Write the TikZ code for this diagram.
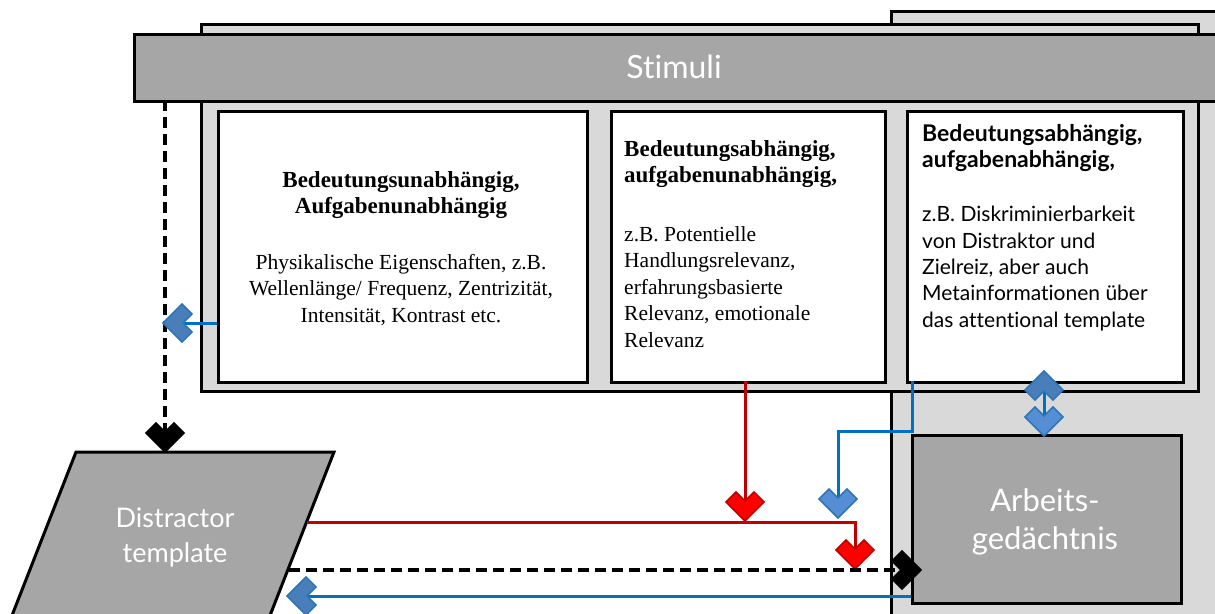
\documentclass[tikz,border=0pt]{standalone}
\usepackage{fontspec}
\setmainfont{Liberation Serif}
\newfontfamily\sansf[Ligatures=NoCommon]{Lato}
\usetikzlibrary{arrows.meta}
\definecolor{lgray}{HTML}{D9D9D9}
\definecolor{mgray}{HTML}{A6A6A6}
\definecolor{dred}{HTML}{C00000}
\definecolor{bred}{HTML}{FF0000}
\definecolor{lblue}{HTML}{0070C0}
\definecolor{fblue}{HTML}{558ED5}
\definecolor{fblueD}{HTML}{4A7EBB}
\definecolor{oblue}{HTML}{2E75B6}
\newcommand\defchev[3]{%
\pgfdeclarearrow{
  name=#1,
  setup code={
    \pgfarrowssettipend{0pt}
    \pgfarrowssetlineend{-12pt}
    \pgfarrowssetvisualbackend{-29pt}
    \pgfarrowssetbackend{-29pt}
    \pgfarrowshullpoint{0pt}{0pt}
    \pgfarrowsupperhullpoint{-20pt}{20pt}
    \pgfarrowsupperhullpoint{-29pt}{11pt}
  },
  drawing code={
    \pgfsetdash{}{0pt}
    \pgfsetlinewidth{1.6pt}
    \pgfsetmiterjoin
    \pgfsetfillcolor{#2}\pgfsetstrokecolor{#3}
    \pgfpathmoveto{\pgfqpoint{0pt}{0pt}}
    \pgfpathlineto{\pgfqpoint{-19pt}{19pt}}
    \pgfpathlineto{\pgfqpoint{-29pt}{9pt}}
    \pgfpathlineto{\pgfqpoint{-20pt}{0pt}}
    \pgfpathlineto{\pgfqpoint{-29pt}{-9pt}}
    \pgfpathlineto{\pgfqpoint{-19pt}{-19pt}}
    \pgfpathclose
    \pgfusepathqfillstroke
  }
}}
\defchev{ChevRed}{bred}{dred}
\defchev{ChevBlue}{fblue}{oblue}
\defchev{ChevBlueD}{fblueD}{oblue}
\defchev{ChevBlack}{black}{black}
\tikzset{
  frame/.style={draw=black, line width=3pt},
  wbox/.style={frame, fill=white, anchor=north west, inner sep=0pt},
  redline/.style={draw=dred, line width=3pt},
  blueline/.style={draw=lblue, line width=3pt},
  blackdash/.style={draw=black, line width=3.5pt, dash pattern=on 11pt off 6pt},
  bodyserif/.style={font=\fontsize{21.5}{26.5}\selectfont},
  bodysans/.style={font=\sansf\fontsize{21}{26.3}\selectfont},
  whitesans/.style={text=white, font=\sansf\fontsize{31}{38}\selectfont, align=center},
}
\newcommand\hd[1]{{\fontsize{23}{26.5}\selectfont\bfseries #1}}
\begin{document}
\begin{tikzpicture}[x=1pt,y=-1pt]
\useasboundingbox (0,0) rectangle (1215,613);
\clip (0,0) rectangle (1215,613);
% background boxes
\fill[lgray] (891,11) rectangle (1240,640);
\draw[frame] (891,640) -- (891,11) -- (1240,11);
\node[frame, fill=lgray, anchor=north west, minimum width=997pt, minimum height=367pt, inner sep=0pt] (mid) at (200,23) {};
\node[frame, fill=mgray, anchor=north west, minimum width=1110pt, minimum height=67pt, inner sep=0pt] (stim) at (133,33) {};
\node[whitesans, font=\sansf\fontsize{32}{38}\selectfont] (stimtxt) at (674,67) {Stimuli};
% content boxes
\node[wbox, minimum width=369pt, minimum height=271pt] (b1) at (217,110) {};
\node[wbox, minimum width=274pt, minimum height=271pt] (b2) at (610,110) {};
\node[wbox, minimum width=276pt, minimum height=271pt] (b3) at (906,110) {};
\node[bodyserif, align=center, anchor=north, inner sep=0pt] (t1) at (401,171) {%
\hd{Bedeutungsunabhängig,}\\\hd{Aufgabenunabhängig}\\[29pt]
Physikalische Eigenschaften, z.B.\\Wellenlänge/ Frequenz, Zentrizität,\\Intensität, Kontrast etc.};
\node[bodyserif, align=left, anchor=north west, inner sep=0pt] (t2) at (624,140) {%
\hd{Bedeutungsabhängig,}\\\hd{aufgabenunabhängig,}\\[32pt]
z.B. Potentielle\\Handlungsrelevanz,\\erfahrungsbasierte\\Relevanz, emotionale\\Relevanz};
\node[bodysans, align=left, anchor=north west, inner sep=0pt] (t3) at (922,124) {%
{\sansf\hd{Bedeutungsabhängig,}}\\{\sansf\hd{aufgabenabhängig,}}\\[28pt]
z.B. Diskriminierbarkeit\\von Distraktor und\\Zielreiz, aber auch\\Metainformationen über\\das attentional template};
% working memory
\node[frame, fill=mgray, anchor=north west, minimum width=269pt, minimum height=168pt, inner sep=0pt] (ag) at (911,434) {};
\node[whitesans] (agtxt) at (1045,522) {Arbeits-\\gedächtnis};
% distractor template (parallelogram)
\coordinate (pTL) at (76,452);
\coordinate (pTR) at (334,452);
\coordinate (pBR) at (269,618);
\coordinate (pBL) at (11,618);
\filldraw[fill=mgray, draw=black, line width=3pt, line join=miter] (pTL) -- (pTR) -- (pBR) -- (pBL) -- cycle;
\node[whitesans, font=\sansf\fontsize{27}{35}\selectfont] (dt) at (175,537) {Distractor\\template};
% connector coordinates
\coordinate (dashTop) at (165,100);
\coordinate (dashBot) at (165,452);
\coordinate (b1out) at (217,323);
\coordinate (b1tip) at (163,323);
\coordinate (b2out) at (745,381);
\coordinate (redJoin) at (745,521);
\coordinate (redStart) at (307,522);
\coordinate (redCorner) at (855,522);
\coordinate (redEnd) at (855,569);
\coordinate (b3out) at (912,381);
\coordinate (bc1) at (912,431);
\coordinate (bc2) at (838,431);
\coordinate (blueEnd) at (838,518);
\coordinate (dashStart) at (289,570);
\coordinate (agIn) at (921,570);
\coordinate (agOut) at (911,596);
\coordinate (dtIn) at (287,596);
\coordinate (b3bot) at (1044,371);
\coordinate (agTop) at (1044,436);
% connectors
\draw[blackdash, -{ChevBlack}] (dashTop) -- (dashBot);
\draw[blueline, -{ChevBlueD}] (b1out) -- (b1tip);
\draw[redline, -{ChevRed}] (b2out) -- (redJoin);
\draw[redline, -{ChevRed}] (redStart) -- (redCorner) -- (redEnd);
\draw[blueline, -{ChevBlue}] (b3out) -- (bc1) -- (bc2) -- (blueEnd);
\draw[blackdash, -{ChevBlack}] (dashStart) -- (agIn);
\draw[blueline, -{ChevBlueD}] (agOut) -- (dtIn);
\draw[blueline, {ChevBlueD}-{ChevBlue}] (b3bot) -- (agTop);
\end{tikzpicture}
\end{document}
